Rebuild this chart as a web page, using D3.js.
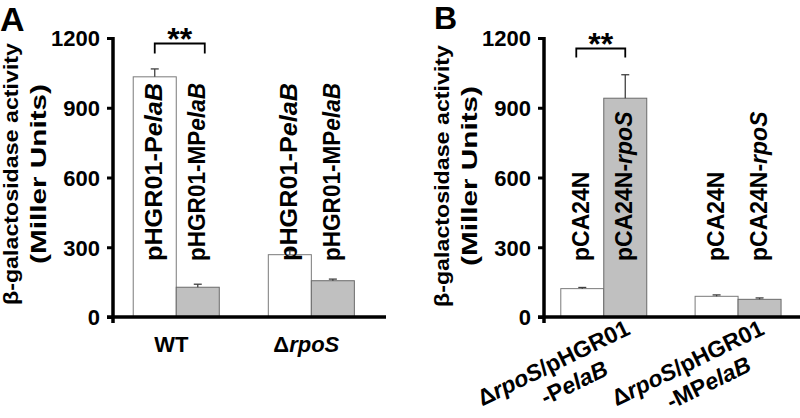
<!DOCTYPE html>
<html>
<head>
<meta charset="utf-8">
<script src="https://cdn.jsdelivr.net/npm/d3@7"></script>
<style>
html,body{margin:0;padding:0;background:#fff;}
svg{display:block;font-family:"Liberation Sans",Arial,sans-serif;font-weight:bold;}
</style>
</head>
<body>
<svg id="chart" width="800" height="418"></svg>
<script>
// ---------- data ----------
const yTicks = [0, 300, 600, 900, 1200];
const yTitle = ["β-galactosidase activity", "(Miller Units)"];

const groupsA = ["WT", "Δ<i>rpoS</i>"];
const seriesA = ["pHGR01-P<i>elaB</i>", "pHGR01-MP<i>elaB</i>"];
const valuesA = [[1033, 128], [268, 156]];   // [group][series]
const errorsA = [[1067, 141], [285, 163]];   // upper error bar ends

const groupsB = [["Δ<i>rpoS</i>/pHGR01", "-P<i>elaB</i>"], ["Δ<i>rpoS</i>/pHGR01", "-MP<i>elaB</i>"]];
const seriesB = ["pCA24N", "pCA24N-<i>rpoS</i>"];
const valuesB = [[122, 941], [89, 76]];
const errorsB = [[127, 1042], [95, 82]];

const signifA = "**";
const signifB = "**";

// ---------- helpers ----------
const svg = d3.select("#chart");
const fills = ["#ffffff", "#c0c0c0"];
const strokes = ["#7a7a7a", "#6a6a6a"];

function rich(sel, str) {
  const parts = str.split(/(<i>.*?<\/i>)/).filter(s => s.length);
  parts.forEach(p => {
    const it = p.startsWith("<i>");
    sel.append("tspan")
      .attr("font-style", it ? "italic" : "normal")
      .text(it ? p.slice(3, -4) : p);
  });
  return sel;
}

const y = d3.scaleLinear().domain([0, 1200]).range([317, 38]);

function panel(cfg) {
  const g = svg.append("g");
  const x0 = d3.scaleBand().domain(d3.range(cfg.values.length))
    .range([cfg.axisX, cfg.xEnd])
    .paddingInner(cfg.pi).paddingOuter(cfg.po).align(cfg.align);
  const x1 = d3.scaleBand().domain(d3.range(cfg.series.length))
    .range([0, x0.bandwidth()]);

  // bars
  cfg.values.forEach((vals, gi) => {
    vals.forEach((v, si) => {
      const bx = x0(gi) + x1(si);
      g.append("rect")
        .attr("x", bx).attr("y", y(v))
        .attr("width", x1.bandwidth()).attr("height", y(0) - y(v))
        .attr("fill", fills[si]).attr("stroke", strokes[si]).attr("stroke-width", 1);
      const cx = bx + x1.bandwidth() / 2;
      const e = cfg.errors[gi][si];
      g.append("line").attr("x1", cx).attr("x2", cx).attr("y1", y(v)).attr("y2", y(e))
        .attr("stroke", "#404040").attr("stroke-width", 1.3);
      g.append("line").attr("x1", cx - 4).attr("x2", cx + 4).attr("y1", y(e)).attr("y2", y(e))
        .attr("stroke", "#404040").attr("stroke-width", 1.3);
      // rotated series label
      const t = g.append("text")
        .attr("transform", `translate(${cx + 7},261) rotate(-90)`)
        .attr("font-size", 23).attr("fill", "#000");
      if (cfg.labelLen) t.attr("textLength", cfg.labelLen).attr("lengthAdjust", "spacingAndGlyphs");
      rich(t, cfg.series[si]);
    });
  });

  // axes
  const yAxis = d3.axisLeft(y).tickValues(yTicks).tickFormat(d3.format("d"))
    .tickSize(6).tickSizeOuter(0).tickPadding(7);
  const ag = g.append("g").attr("transform", `translate(${cfg.axisX},0)`).call(yAxis);
  ag.select(".domain").remove();
  ag.selectAll(".tick line").attr("stroke", "#000").attr("stroke-width", 3);
  ag.selectAll(".tick text").attr("font-size", 22).attr("font-family", null)
    .attr("font-weight", "bold").attr("fill", "#000").attr("dy", "0.36em");
  g.append("line").attr("x1", cfg.axisX).attr("x2", cfg.axisX)
    .attr("y1", y(1200) - 1).attr("y2", y(0) + 6)
    .attr("stroke", "#000").attr("stroke-width", 3.5);
  g.append("line").attr("x1", cfg.axisX - 6).attr("x2", cfg.axisLineEnd)
    .attr("y1", y(0)).attr("y2", y(0))
    .attr("stroke", "#000").attr("stroke-width", 3.5);

  // y title
  const tg = g.append("g").attr("transform", `translate(${cfg.axisX},${cfg.titleY}) rotate(-90)`);
  tg.append("text").attr("x", 0).attr("y", -95).attr("text-anchor", "middle")
    .attr("font-size", 21).attr("textLength", 262).attr("lengthAdjust", "spacingAndGlyphs")
    .text(yTitle[0]);
  tg.append("text").attr("x", 0).attr("y", -67.5).attr("text-anchor", "middle")
    .attr("font-size", 22).attr("textLength", 180).attr("lengthAdjust", "spacingAndGlyphs")
    .text(yTitle[1]);

  // x labels
  cfg.groups.forEach((lab, gi) => {
    const gc = x0(gi) + x0.bandwidth() / 2;
    if (typeof lab === "string") {
      const t = g.append("text").attr("x", gc - 5).attr("y", 352)
        .attr("text-anchor", "middle").attr("font-size", 22);
      rich(t, lab);
    } else {
      const lg = g.append("g").attr("transform", `translate(${gc - 47},370) rotate(-26)`);
      lab.forEach((line, li) => {
        const t = lg.append("text").attr("x", li * 10).attr("y", li * 27)
          .attr("text-anchor", "middle").attr("font-size", 23);
        rich(t, line);
      });
    }
  });

  // significance bracket (first group)
  const c0 = x0(0) + x1(0) + x1.bandwidth() / 2 + cfg.brL;
  const c1 = x0(0) + x1(1) + x1.bandwidth() / 2 + cfg.brR;
  g.append("path")
    .attr("d", `M${c0},${cfg.brTop + cfg.brH}V${cfg.brTop}H${c1}V${cfg.brTop + cfg.brH}`)
    .attr("fill", "none").attr("stroke", "#000").attr("stroke-width", 1.8);
  g.append("text").attr("x", (c0 + c1) / 2).attr("y", cfg.brTop + 6.7)
    .attr("text-anchor", "middle").attr("font-size", 32).text(cfg.signif);

  // panel letter
  g.append("text").attr("x", cfg.letterX).attr("y", cfg.letterY)
    .attr("font-size", cfg.letterSize).text(cfg.letter);
}

panel({
  values: valuesA, errors: errorsA, series: seriesA, groups: groupsA, signif: signifA,
  axisX: 113, xEnd: 386, axisLineEnd: 386, pi: 0.363, po: 0.192, align: 0.39,
  titleY: 174, brTop: 43.5, brH: 10, brL: 0, brR: 7, labelLen: 178,
  letter: "A", letterX: 0, letterY: 31, letterSize: 34
});
panel({
  values: valuesB, errors: errorsB, series: seriesB, groups: groupsB, signif: signifB,
  axisX: 544, xEnd: 800, axisLineEnd: 800, pi: 0.36, po: 0.133, align: 0.47,
  titleY: 176, brTop: 48.5, brH: 9, brL: -6, brR: 0, labelLen: null,
  letter: "B", letterX: 434, letterY: 29, letterSize: 32
});
</script>
</body>
</html>
